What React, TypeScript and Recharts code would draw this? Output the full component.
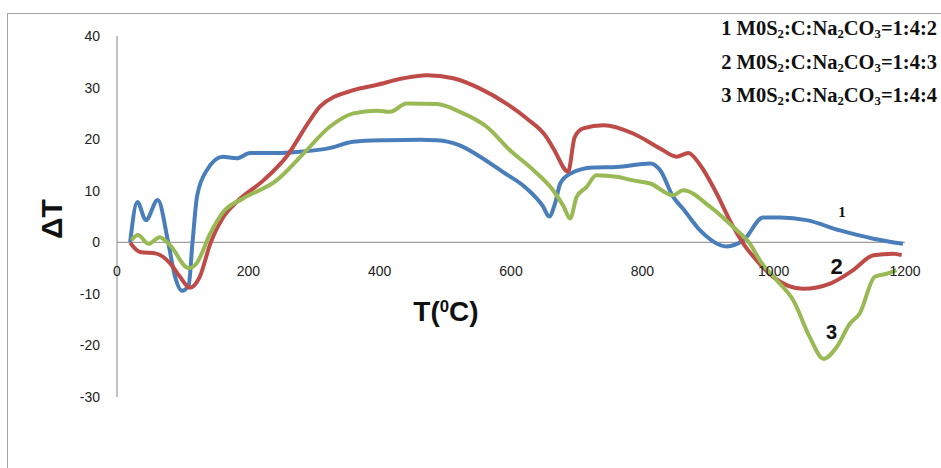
import { LineChart, Line, XAxis, YAxis, ReferenceLine, ReferenceDot } from 'recharts';

// DTA curves: temperature (°C) vs ΔT, one array of [t, dT] pairs per mixture
const sample1: [number, number][] = [
  [20, 0], [31, 7.8], [44, 4.3], [62, 8.2], [78, 0], [88, -6.5], [99, -9.4], [109, -8.4],
  [115, 0], [122, 9], [137, 14], [161, 16.6], [182, 16.3], [203, 17.3], [243, 17.3],
  [274, 17.5], [325, 18.3], [360, 19.5], [411, 19.8], [461, 19.9], [487, 19.8], [522, 18.8],
  [553, 16.6], [588, 13.6], [624, 10.4], [649, 6.9], [658, 5.0], [667, 7.5], [675, 11.4],
  [690, 13.3], [725, 14.5], [761, 14.6], [812, 15.3], [827, 14.0], [847, 8.8], [862, 6.5],
  [888, 2.3], [928, -0.8], [954, 0.4], [984, 4.8], [1010, 4.8], [1050, 4.3], [1101, 2.3],
  [1152, 0.7], [1197, -0.3],
];

const sample2: [number, number][] = [
  [20, -0.1], [35, -1.9], [60, -2.2], [81, -4.1], [96, -6.7], [111, -8.8], [126, -6.7],
  [142, -0.3], [162, 4.9], [182, 7.8], [223, 12.0], [258, 16.6], [294, 23.7], [309, 26.3],
  [360, 29.5], [395, 30.5], [436, 31.8], [472, 32.4], [512, 31.8], [553, 29.8], [593, 26.9],
  [624, 24.0], [654, 20.4], [665, 18.1], [687, 13.7], [697, 20.4], [710, 22.1], [741, 22.7],
  [786, 21.1], [827, 18.2], [852, 16.6], [870, 17.3], [888, 15.0], [913, 9.5], [933, 4.3],
  [954, -0.3], [974, -3.5], [999, -6.7], [1045, -9.0], [1086, -8.0], [1121, -5.4],
  [1152, -2.5], [1182, -2.2], [1195, -2.5],
];

const sample3: [number, number][] = [
  [22, 0.4], [32, 1.4], [48, -0.3], [65, 1.0], [81, -0.6], [109, -5.0], [121, -4.1],
  [142, 1.7], [162, 5.9], [192, 8.5], [243, 12.0], [284, 17.2], [324, 22.4], [360, 25.0],
  [395, 25.5], [416, 25.3], [441, 26.9], [487, 26.8], [522, 25.3], [563, 22.4], [598, 17.9],
  [634, 14.0], [664, 10.1], [680, 7.0], [690, 4.6], [700, 8.8], [715, 10.7], [730, 13.0],
  [761, 12.7], [786, 12.0], [812, 11.4], [847, 9.1], [862, 10.1], [903, 6.9], [938, 3.0],
  [964, -0.3], [979, -3.5], [1005, -7.4], [1030, -11.3], [1055, -18.4], [1076, -22.6],
  [1096, -20.3], [1116, -15.8], [1131, -13.8], [1154, -6.7], [1172, -6.1], [1187, -5.4],
];

const xTicks = [0, 200, 400, 600, 800, 1000, 1200];
const yTicks = [-30, -20, -10, 0, 10, 20, 30, 40];

// curve number labels: [label, t, dT, font size]
const curveLabels: [string, number, number, number][] = [
  ['1', 1104, 5.9, 15],
  ['2', 1096, -4.6, 22],
  ['3', 1088, -17.4, 20],
];

const legendRatios = ['1:4:2', '1:4:3', '1:4:4'];

const toPoints = (rows: [number, number][]) => rows.map(([t, dT]) => ({ t, dT }));

const sub = { fontSize: '0.62em', verticalAlign: '-0.2em' };

const axisFont = '"Liberation Sans", Arial, sans-serif';

// x labels sit just under the zero line rather than at the bottom of the plot
function XTick(props: any) {
  const { x, y, payload } = props;
  return (
    <text x={x} y={y - 134} textAnchor="middle" dominantBaseline="central"
      fontSize={14} fontFamily={axisFont} fill="#222">
      {payload.value}
    </text>
  );
}

export default function App() {
  return (
    <div style={{ position: 'absolute', left: 0, top: 0, width: 941, height: 468, overflow: 'hidden', background: '#fff' }}>
      <div style={{ position: 'absolute', left: 7, top: 13, width: 1000, height: 1000, border: '1px solid #a6a6a6' }} />
      <div style={{ position: 'absolute', left: 0, top: 0 }}>
        <LineChart width={941} height={468} margin={{ top: 36, right: 36, bottom: 41, left: 57 }}>
          <XAxis dataKey="t" type="number" domain={[0, 1200]} ticks={xTicks} height={30}
            axisLine={false} tickLine={false} tick={<XTick />} interval={0} />
          <YAxis type="number" domain={[-30, 40]} ticks={yTicks} width={60} interval={0}
            axisLine={{ stroke: '#868686' }} tickLine={false} tickSize={15} tickMargin={2}
            tick={{ fontSize: 14, fontFamily: axisFont, fill: '#222' }} />
          <ReferenceLine y={0} stroke="#868686" strokeWidth={1} />
          <Line data={toPoints(sample1)} dataKey="dT" type="monotone" stroke="#4a7ebb"
            strokeWidth={4} dot={false} isAnimationActive={false} />
          <Line data={toPoints(sample2)} dataKey="dT" type="monotone" stroke="#be4b48"
            strokeWidth={4} dot={false} isAnimationActive={false} />
          <Line data={toPoints(sample3)} dataKey="dT" type="monotone" stroke="#98b954"
            strokeWidth={4} dot={false} isAnimationActive={false} />
          {curveLabels.map(([text, t, dT, size]) => (
            <ReferenceDot key={text} x={t} y={dT} r={0} stroke="none" fill="none"
              label={{ value: text, position: 'center', fontSize: size, fontWeight: 700,
                fontFamily: text === '1' ? '"Liberation Serif", serif' : axisFont, fill: '#111' }} />
          ))}
        </LineChart>
      </div>

      <div style={{ position: 'absolute', left: 52, top: 219, transform: 'translate(-50%, -50%) rotate(-90deg)',
        fontFamily: axisFont, fontWeight: 700, fontSize: 30, lineHeight: 1, color: '#111', whiteSpace: 'nowrap' }}>
        ΔT
      </div>
      <div style={{ position: 'absolute', left: 446, top: 312, transform: 'translate(-50%, -50%)',
        fontFamily: axisFont, fontWeight: 700, fontSize: 28, lineHeight: 1, color: '#111', whiteSpace: 'nowrap' }}>
        T(<span style={{ fontSize: '0.6em', verticalAlign: '0.55em' }}>0</span>C)
      </div>

      <div style={{ position: 'absolute', right: 4, top: 14, textAlign: 'right', fontFamily: '"Liberation Serif", "Times New Roman", serif',
        fontWeight: 700, fontSize: 20.5, lineHeight: '28px', color: '#111' }}>
        {legendRatios.map((r, i) => (
          <div key={r}>
            {i + 1} M0S<span style={sub}>2</span>:C:Na<span style={sub}>2</span>CO<span style={sub}>3</span>={r}
          </div>
        ))}
      </div>
    </div>
  );
}
